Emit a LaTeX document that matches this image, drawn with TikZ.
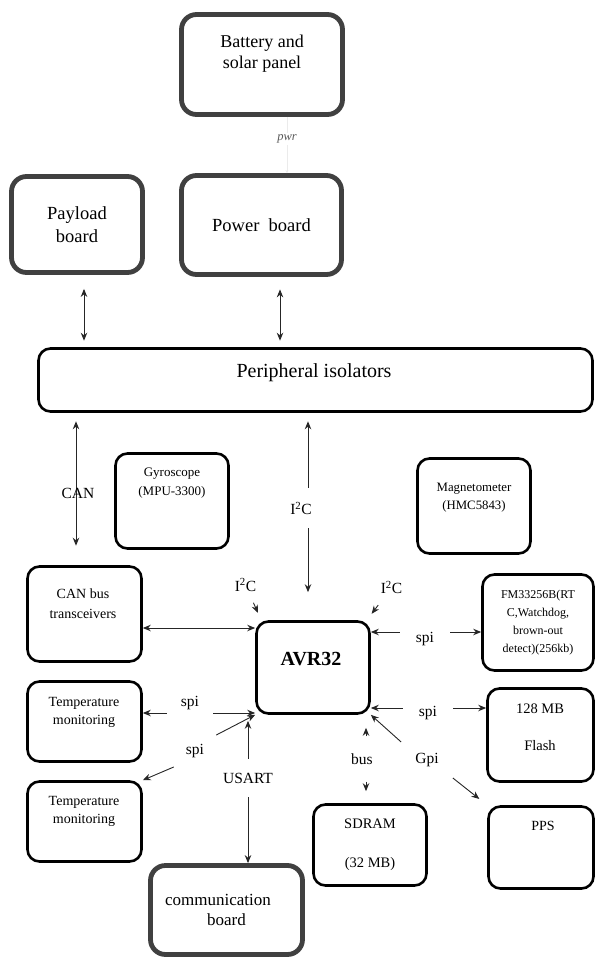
\documentclass[tikz,border=0pt]{standalone}
\usepackage{fontspec}
\setmainfont{Liberation Serif}
\usepackage{tikz}
\usetikzlibrary{arrows.meta}
\newcommand{\setfs}[2]{\fontsize{#1}{#2}\selectfont}
\newcommand{\iic}{I\textsuperscript{2}C}

\begin{document}
\begin{tikzpicture}[
  x=1pt, y=-1pt,
  board/.style={rectangle, draw=black!75, line width=4.8pt, rounded corners=15pt,
                align=center, inner sep=0pt},
  box/.style={rectangle, draw=black, line width=2.6pt, rounded corners=12pt,
              align=center, inner sep=0pt},
  txt/.style={align=center, inner sep=0pt},
  lbl/.style={inner sep=0pt, font=\setfs{15.5}{18}},
  arrow/.style={-{Stealth[length=8pt, width=6.5pt]}, line width=0.9pt, draw=black!85},
  dblarrow/.style={{Stealth[length=8pt, width=6.5pt]}-{Stealth[length=8pt, width=6.5pt]},
                   line width=0.9pt, draw=black!85},
  pwrline/.style={-{Stealth[length=3pt, width=3pt]}, line width=0.5pt, draw=black!8}
]
\useasboundingbox (0,0) rectangle (596,958);

\node[board, minimum width=161pt, minimum height=100pt] (batt) at (262,64.5) {};
\node[txt, font=\setfs{18}{21}] (batttext) at (262,54) {Battery and\\solar panel};
\node[board, minimum width=160pt, minimum height=99pt, font=\setfs{18.5}{22}] (power) at (261.5,225) {Power\ \ board};
\node[board, minimum width=131pt, minimum height=96pt, font=\setfs{18.5}{23}] (payload) at (77,224.5) {Payload\\board};

\node[box, minimum width=554pt, minimum height=63pt] (peri) at (315.5,380) {};
\node[txt, font=\setfs{20}{24}] (peritext) at (314,373) {Peripheral isolators};

\node[box, minimum width=113pt, minimum height=95pt] (gyro) at (172,501) {};
\node[txt, font=\setfs{13}{19}] (gyrotext) at (172,483) {Gyroscope\\(MPU-3300)};
\node[box, minimum width=113pt, minimum height=95pt] (magn) at (474,506) {};
\node[txt, font=\setfs{12.8}{18}] (magntext) at (474,498) {Magnetometer\\(HMC5843)};

\node[box, minimum width=114pt, minimum height=95pt] (canbus) at (84.5,614) {};
\node[txt, font=\setfs{14}{20}] (canbustext) at (83,604) {CAN bus\\transceivers};
\node[box, minimum width=113pt, minimum height=92pt] (avr) at (313,667.5) {};
\node[txt, font=\bfseries\setfs{20}{24}] (avrtext) at (311,659) {AVR32};
\node[box, minimum width=111pt, minimum height=96pt, font=\setfs{12}{18}] (fm) at (538,622.5)
  {FM33256B(RT\\C,Watchdog,\\brown-out\\detect)(256kb)};
\node[box, minimum width=106pt, minimum height=93pt] (flash) at (540.5,735) {};
\node[txt, font=\setfs{14.5}{37}] (flashtext) at (540,727) {128 MB\\Flash};

\node[box, minimum width=114pt, minimum height=80pt] (temp1) at (84.5,721.5) {};
\node[txt, font=\setfs{14}{18}] (temp1text) at (84,712) {Temperature\\monitoring};
\node[box, minimum width=114pt, minimum height=80pt] (temp2) at (84.5,821.5) {};
\node[txt, font=\setfs{14}{18}] (temp2text) at (84,811.5) {Temperature\\monitoring};

\node[box, minimum width=113pt, minimum height=81pt, font=\setfs{14.5}{39}] (sdram) at (370,845) {SDRAM\\(32 MB)};
\node[box, minimum width=105pt, minimum height=82pt] (pps) at (541,847.5) {};
\node[txt, font=\setfs{14}{17}] (ppstext) at (543,826) {PPS};
\node[board, minimum width=152pt, minimum height=89pt, font=\setfs{17}{20}] (comm) at (226.5,910)
  {communication\hspace*{17pt}\\board};

\draw[pwrline] ([xshift=25pt]batt.south) -- node[pos=0.39, fill=white, inner sep=2pt,
  font=\itshape\setfs{12.5}{15}, text=black!65] (pwr) {pwr} ([xshift=25pt]batt.south |- power.north);
\draw[dblarrow, shorten <=14pt, shorten >=6.5pt] ([xshift=7pt]payload.south) -- ([xshift=7pt]payload.south |- peri.north);
\draw[dblarrow, shorten <=12.5pt, shorten >=6.5pt] ([xshift=18.5pt]power.south) -- ([xshift=18.5pt]power.south |- peri.north);

\draw[dblarrow, shorten <=8.5pt, shorten >=19.5pt] ([xshift=-8.5pt]canbus.north |- peri.south)
  -- node[lbl, pos=0.53, xshift=2pt] (can) {CAN} ([xshift=-8.5pt]canbus.north);
\draw[dblarrow, shorten <=8.5pt, shorten >=28pt] ([xshift=-5pt]avr.north |- peri.south)
  -- node[lbl, pos=0.46, xshift=-7pt, fill=white, inner xsep=2pt, inner ysep=14pt] (i2cv) {\iic} ([xshift=-5pt]avr.north);

\draw[arrow, shorten <=58pt, shorten >=8pt] (gyro.south east) -- node[lbl] (i2cl) {\iic} ([xshift=6pt]avr.north west);
\draw[arrow, shorten <=63pt, shorten >=8pt] (magn.south west) -- node[lbl] (i2cr) {\iic} ([xshift=-4pt]avr.north east);
\draw[dblarrow] ([yshift=-14pt]canbus.east) -- ([yshift=-14pt]canbus.east -| avr.west);

\node[lbl, inner xsep=16pt] (spifm) at (425,639) {spi};
\draw[arrow] ([yshift=7pt]spifm.west) -- ([yshift=7pt]spifm.west -| avr.east);
\draw[arrow] ([yshift=7pt]spifm.east) -- ([yshift=7pt]spifm.east -| fm.west);
\node[lbl, inner xsep=16pt] (spiflash) at (428,713) {spi};
\draw[arrow] ([yshift=5pt]spiflash.west) -- ([yshift=5pt]spiflash.west -| avr.east);
\draw[arrow] ([yshift=5pt]spiflash.east) -- ([yshift=5pt]spiflash.east -| flash.west);

\node[lbl, inner xsep=14pt] (spitemp1) at (190,703) {spi};
\draw[arrow] ([yshift=-10pt]spitemp1.west) -- ([yshift=-10pt]spitemp1.west -| temp1.east);
\draw[arrow] ([yshift=-10pt]spitemp1.east) -- ([yshift=-10pt]spitemp1.east -| avr.west);
\node[lbl, inner xsep=12pt, inner ysep=9pt] (spitemp2) at (195,751) {spi};
\draw[arrow] (spitemp2.north east) -- (avr.south west);
\draw[arrow] (spitemp2.south west) -- (temp2.north east);

\node[lbl, inner ysep=14pt] (usart) at (248,778) {USART};
\draw[arrow, shorten >=6pt] (usart.north) -- (usart.north |- avr.south);
\draw[arrow] (usart.south) -- (usart.south |- comm.north);

\node[lbl, inner ysep=17pt] (bus) at (362,759) {bus};
\draw[arrow, shorten >=13pt] ([xshift=4pt]bus.north) -- ([xshift=4pt]bus.north |- avr.south);
\draw[arrow, shorten >=12pt] ([xshift=4pt]bus.south) -- ([xshift=4pt]bus.south |- sdram.north);

\node[lbl, inner xsep=14pt, inner ysep=11pt] (gpi) at (427,760) {Gpi};
\draw[arrow] (gpi.north west) -- (avr.south east);
\draw[arrow, shorten >=10pt] (gpi.south east) -- (pps.north west);

\end{tikzpicture}
\end{document}
